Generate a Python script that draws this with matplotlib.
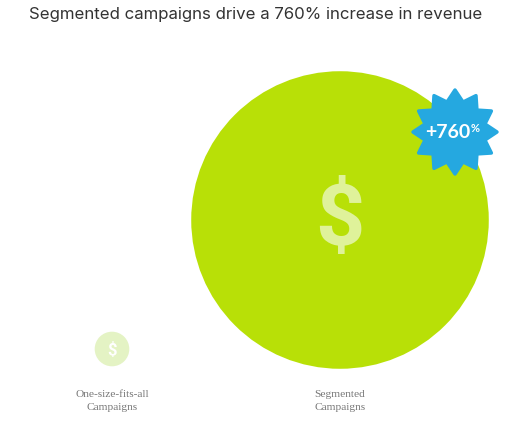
import numpy as np
import matplotlib
matplotlib.use("Agg")
import matplotlib.pyplot as plt
from matplotlib.patches import Circle, Polygon

# data
categories = ["One-size-fits-all\nCampaigns", "Segmented\nCampaigns"]
revenue = [1.0, 8.6]          # relative revenue (760% increase)
increase_label = "+760"
title = "Segmented campaigns drive a 760% increase in revenue"

W, H = 512, 437
fig = plt.figure(figsize=(W / 100, H / 100), dpi=100)
ax = fig.add_axes([0, 0, 1, 1])
ax.set_xlim(0, W)
ax.set_ylim(H, 0)
ax.set_aspect("equal")
ax.axis("off")

green = "#b8e007"
pale = "#e4f3c4"
blue = "#25a8e0"
dollar_col = "#dff29a"

centers_x = [112, 340]
centers_y = [349, 220]
scale = 17.3  # pixels of radius per unit of revenue

for i, (cat, val) in enumerate(zip(categories, revenue)):
    r = val * scale
    col = pale if i == 0 else green
    ax.add_patch(Circle((centers_x[i], centers_y[i]), r, color=col, lw=0))
    if i == 0:
        ax.text(centers_x[i], centers_y[i] + 1, "$", color="white", fontsize=12,
                fontweight="bold", family="Roboto", ha="center", va="center")
    else:
        ax.text(centers_x[i], centers_y[i] + 1, "$", color=dollar_col, fontsize=62,
                fontweight="bold", family="Roboto", ha="center", va="center")
    ax.text(centers_x[i], 401, cat, ha="center", va="center", fontsize=8.2,
            family="Liberation Serif", color="#777777", linespacing=1.45)

# starburst badge
n = 12
sx, sy = 455, 132
ang = np.linspace(0, 2 * np.pi, 2 * n, endpoint=False) - np.pi / 2
rad = np.where(np.arange(2 * n) % 2 == 0, 42, 31)
pts = np.column_stack([sx + rad * np.cos(ang), sy + rad * np.sin(ang)])
ax.add_patch(Polygon(pts, closed=True, facecolor=blue, edgecolor=blue, lw=2.5,
                     joinstyle="round"))
ax.text(sx + 15, sy + 1, increase_label, color="white", fontsize=14, fontweight="bold",
        family="Lato", ha="right", va="center")
ax.text(sx + 16, sy - 3, "%", color="white", fontsize=8, fontweight="bold",
        family="Lato", ha="left", va="center")

ax.text(W / 2, 15, title, ha="center", va="center", fontsize=12.1,
        family="Inter", color="#333333")

fig.savefig("out.png", dpi=100)
